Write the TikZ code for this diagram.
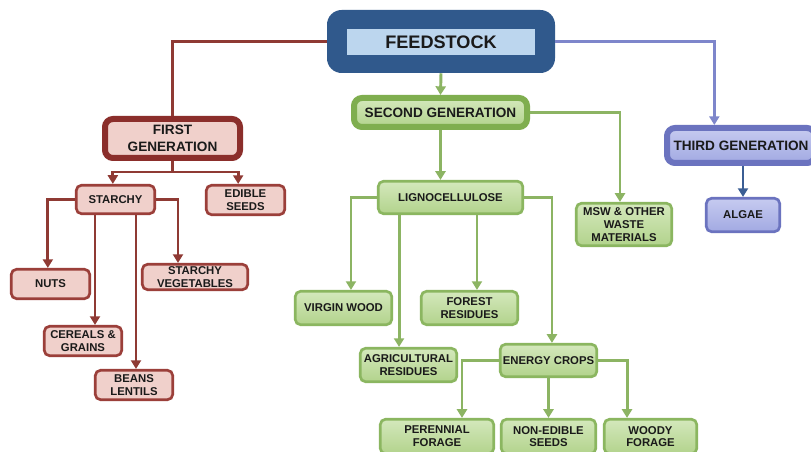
\documentclass[tikz,border=0pt]{standalone}
\usepackage{fontspec}
\setmainfont{Liberation Sans}
\usepackage{tikz}
\usetikzlibrary{arrows.meta}

\definecolor{redborder}{HTML}{9B3F3A}
\definecolor{reddark}{HTML}{8B2E2B}
\definecolor{redfill}{HTML}{F0D0CB}
\definecolor{redline}{HTML}{8F3A34}
\definecolor{greenborder}{HTML}{8BB660}
\definecolor{greendark}{HTML}{7FAE4F}
\definecolor{greentop}{HTML}{D4E8BC}
\definecolor{greenbot}{HTML}{B2D38C}
\definecolor{greenline}{HTML}{8CB463}
\definecolor{feeddark}{HTML}{30598C}
\definecolor{feedlight}{HTML}{BCD6EE}
\definecolor{blueborder}{HTML}{6B73BF}
\definecolor{bluetop}{HTML}{C6CBF0}
\definecolor{bluebot}{HTML}{A2A9E2}
\definecolor{blueline}{HTML}{7E86CB}
\definecolor{bluearrow}{HTML}{3B5E94}
\definecolor{textcol}{HTML}{1A1A1A}

\begin{document}
\begin{tikzpicture}[
	x=0.75pt,y=-0.75pt,
	box/.style={align=center,inner sep=0pt,text=textcol,rounded corners=4pt,line width=2pt,
		font=\fontsize{8.5}{9.6}\selectfont\bfseries},
	redblock/.style={box,draw=redborder,fill=redfill},
	greenblock/.style={box,draw=greenborder,top color=greentop,bottom color=greenbot},
	blueblock/.style={box,draw=blueborder,top color=bluetop,bottom color=bluebot},
	genblock/.style={rounded corners=6pt,line width=4.5pt,font=\fontsize{10.2}{12.4}\selectfont\bfseries},
	tip/.style={-{Triangle[width=7.5pt,length=6.5pt]}},
	redarrow/.style={draw=redline,line width=2.2pt,tip},
	greenarrow/.style={draw=greenline,line width=2.2pt,tip},
	bluearrow/.style={draw=blueline,line width=2.2pt,tip}
	]
		\clip (0,0) rectangle (811,452);
		\fill[white] (0,0) rectangle (811,452);

		% feedstock
		\path (441,41.5) node[fill=feeddark,rounded corners=11pt,minimum width=171pt,minimum height=47.25pt] (feedstock) {};
		\path (441,42) node[fill=feedlight,minimum width=141pt,minimum height=19.5pt,text=textcol,
			font=\fontsize{13.6}{16}\selectfont\bfseries] (feedtext) {FEEDSTOCK};

		% generations
		\path (172.5,138.5) node[redblock,genblock,draw=reddark,minimum width=101.25pt,minimum height=29.25pt] (first) {FIRST\\GENERATION};
		\path (440.5,112.5) node[greenblock,genblock,draw=greendark,minimum width=129.75pt,minimum height=21.75pt] (second) {SECOND GENERATION};
		\path (741,145.5) node[blueblock,genblock,minimum width=111pt,minimum height=26.25pt] (third) {THIRD GENERATION};

		% first generation
		\path (115.5,199.5) node[redblock,minimum width=58.9pt,minimum height=21.4pt] (starchy) {STARCHY};
		\path (245.5,200) node[redblock,minimum width=58.9pt,minimum height=22.1pt] (edible) {EDIBLE\\SEEDS};
		\path (50.5,284) node[redblock,minimum width=58.9pt,minimum height=22.1pt] (nuts) {NUTS};
		\path (195,277) node[redblock,minimum width=79.1pt,minimum height=19.1pt] (stveg) {STARCHY\\VEGETABLES};
		\path (83,341) node[redblock,minimum width=58.1pt,minimum height=22.1pt] (cereals) {CEREALS \&\\GRAINS};
		\path (134,385) node[redblock,minimum width=58.1pt,minimum height=22.1pt] (beans) {BEANS\\LENTILS};

		% second generation
		\path (450.5,197.5) node[greenblock,minimum width=108.4pt,minimum height=24.4pt] (ligno) {LIGNOCELLULOSE};
		\path (624,224.5) node[greenblock,minimum width=71.6pt,minimum height=31.9pt] (msw) {MSW \& OTHER\\WASTE\\MATERIALS};
		\path (343.5,308) node[greenblock,minimum width=72.4pt,minimum height=25.1pt] (virgin) {VIRGIN WOOD};
		\path (469.5,308) node[greenblock,minimum width=72.4pt,minimum height=25.1pt] (forest) {FOREST\\RESIDUES};
		\path (408.5,365) node[greenblock,minimum width=72.4pt,minimum height=25.1pt] (agri) {AGRICULTURAL\\RESIDUES};
		\path (548.5,360.5) node[greenblock,minimum width=72.4pt,minimum height=24.4pt] (energy) {ENERGY CROPS};
		\path (437,436.5) node[greenblock,minimum width=85.1pt,minimum height=25.9pt] (perennial) {PERENNIAL\\FORAGE};
		\path (548.5,436.5) node[greenblock,minimum width=70.9pt,minimum height=25.9pt] (nonedible) {NON-EDIBLE\\SEEDS};
		\path (650.5,436.5) node[greenblock,minimum width=69.4pt,minimum height=25.9pt] (woody) {WOODY\\FORAGE};

		% third generation
		\path (743,215) node[blueblock,minimum width=55.1pt,minimum height=25.1pt] (algae) {ALGAE};

		% connectors from feedstock
		\draw[redline,line width=2.2pt] (feedstock.west) -| (first.north);
		\draw[greenarrow] (feedstock.south) -- (second.north);
		\draw[bluearrow] (feedstock.east) -| ([xshift=-20pt]third.north);

		% first generation tree
		\draw[redarrow] (first.south) -- ++(0,11) -| ([xshift=-2pt]starchy.north);
		\draw[redarrow] (first.south) -- ++(0,11) -| ([xshift=-5.5pt]edible.north);
		\draw[redarrow] (starchy.west) -| ([xshift=-2pt]nuts.north);
		\draw[redarrow] (starchy.east) -| ([xshift=-12.75pt]stveg.north);
		\coordinate (cerealsin) at ([xshift=9pt]cereals.north);
		\coordinate (beansin) at ([xshift=1.5pt]beans.north);
		\draw[redarrow] (cerealsin |- starchy.south) -- (cerealsin);
		\draw[redarrow] (beansin |- starchy.south) -- (beansin);

		% second generation tree
		\draw[greenarrow] (second.south) -- (second.south |- ligno.north);
		\draw[greenarrow] (second.east) -| ([xshift=-3pt]msw.north);
		\draw[greenarrow] (ligno.west) -| ([xshift=5.6pt]virgin.north);
		\coordinate (agriin) at ([xshift=-7.1pt]agri.north);
		\coordinate (forestin) at ([xshift=5.6pt]forest.north);
		\draw[greenarrow] (agriin |- ligno.south) -- (agriin);
		\draw[greenarrow] (forestin |- ligno.south) -- (forestin);
		\draw[greenarrow] (ligno.east) -| ([xshift=2.6pt]energy.north);
		\draw[greenarrow] (energy.west) -| ([xshift=18.75pt]perennial.north);
		\draw[greenarrow] (energy.south) -- (nonedible.north);
		\draw[greenarrow] (energy.east) -| ([xshift=-17.6pt]woody.north);

		% third generation tree
		\draw[draw=bluearrow,line width=2.2pt,tip] (algae.north |- third.south) -- (algae.north);

	\end{tikzpicture}
\end{document}
